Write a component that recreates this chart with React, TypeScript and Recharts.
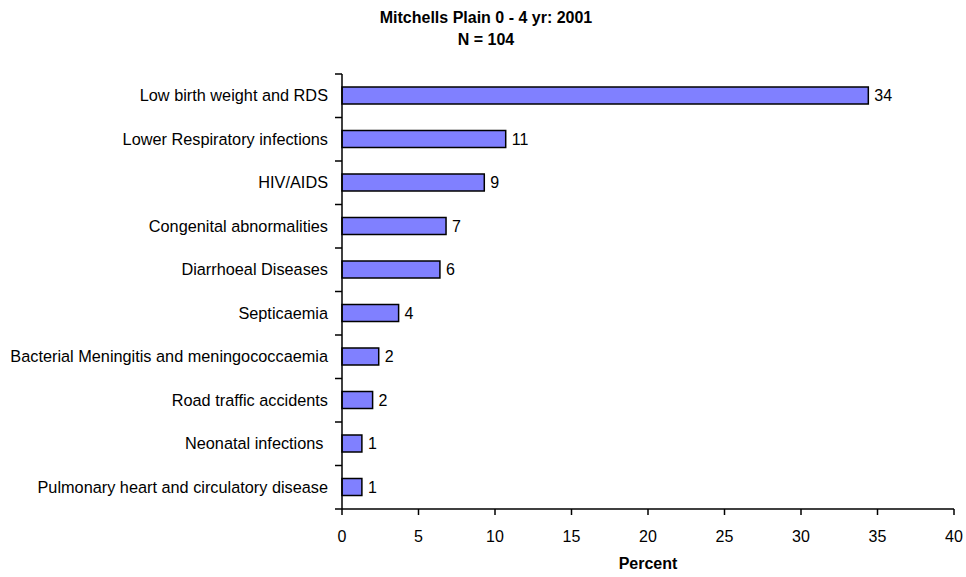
import { Bar, BarChart, LabelList, XAxis, YAxis } from "recharts";

const categories = [
  "Low birth weight and RDS",
  "Lower Respiratory infections",
  "HIV/AIDS",
  "Congenital abnormalities",
  "Diarrhoeal Diseases",
  "Septicaemia",
  "Bacterial Meningitis and meningococcaemia",
  "Road traffic accidents",
  "Neonatal infections ",
  "Pulmonary heart and circulatory disease",
];
const percents = [34.4, 10.7, 9.3, 6.8, 6.4, 3.7, 2.4, 2.0, 1.3, 1.3];
const valueLabels = ["34", "11", "9", "7", "6", "4", "2", "2", "1", "1"];
const xTicks = [0, 5, 10, 15, 20, 25, 30, 35, 40];

const data = categories.map((name, i) => ({ name, percent: percents[i], label: valueLabels[i] }));

const W = 966;
const H = 577;
const TOP = 74;
const AXIS_W = 342;
const XAXIS_H = 68;
const band = (H - TOP - XAXIS_H) / categories.length;
const font = "'Liberation Sans', Arial, sans-serif";
const GAP = 14;

function CategoryTick(props: any) {
  const { x, y, payload, index } = props;
  const ax = x + GAP;
  return (
    <g>
      <text x={x} y={y} dy="0.35em" textAnchor="end" fontSize={16.3} fill="#000" fontFamily={font} style={{ whiteSpace: "pre" }}>
        {payload.value}
      </text>
      <line x1={ax - 7} x2={ax} y1={y - band / 2} y2={y - band / 2} stroke="#000" strokeWidth={1.5} />
      {index === categories.length - 1 && (
        <line x1={ax - 7} x2={ax} y1={y + band / 2} y2={y + band / 2} stroke="#000" strokeWidth={1.5} />
      )}
    </g>
  );
}

export default function App() {
  return (
    <div style={{ position: "absolute", left: 0, top: 0, width: W, height: H, background: "#fff", fontFamily: font }}>
      <div style={{ position: "absolute", left: 0, top: 7, width: 972, textAlign: "center", fontWeight: "bold", fontSize: 16, lineHeight: "22px", color: "#000" }}>
        <div>Mitchells Plain 0 - 4 yr: 2001</div>
        <div>N = 104</div>
      </div>
      <BarChart width={W} height={H} data={data} layout="vertical" margin={{ top: TOP, right: 12, bottom: 0, left: 0 }}>
        <XAxis
          type="number"
          domain={[0, 40]}
          ticks={xTicks}
          interval={0}
          height={XAXIS_H}
          tickSize={6}
          tickMargin={16}
          stroke="#000"
          strokeWidth={1.5}
          tick={{ fill: "#000", fontSize: 16, fontFamily: font }}
          label={{ value: "Percent", position: "insideBottom", offset: 8, fill: "#000", fontSize: 16, fontWeight: "bold", fontFamily: font }}
        />
        <YAxis
          type="category"
          dataKey="name"
          width={AXIS_W}
          interval={0}
          tickSize={0}
          tickMargin={GAP}
          tickLine={false}
          stroke="#000"
          strokeWidth={1.5}
          tick={<CategoryTick />}
        />
        <Bar dataKey="percent" fill="#8080FF" stroke="#000" strokeWidth={1.5} barSize={17} isAnimationActive={false}>
          <LabelList dataKey="label" position="right" offset={6} fill="#000" fontSize={16} fontFamily={font} />
        </Bar>
      </BarChart>
    </div>
  );
}
